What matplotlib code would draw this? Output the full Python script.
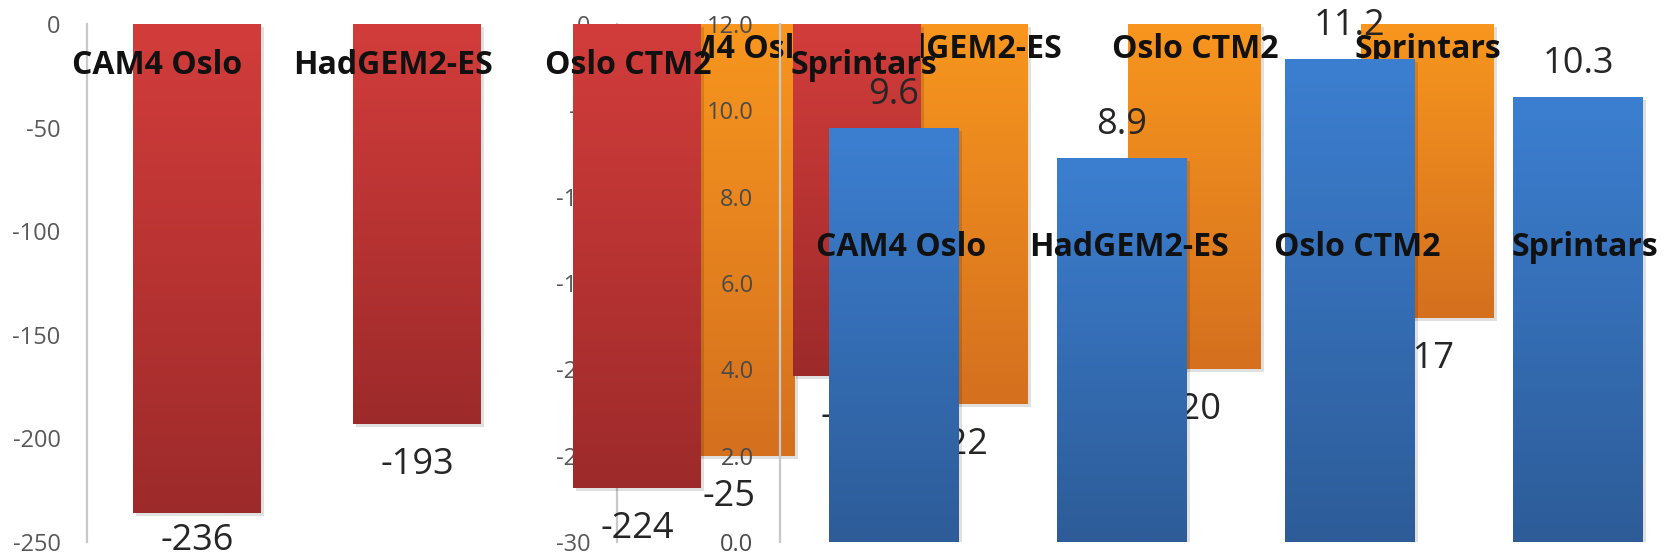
import numpy as np
import matplotlib.pyplot as plt
from matplotlib.colors import LinearSegmentedColormap

plt.rcParams['font.family'] = ['Open Sans', 'DejaVu Sans']

# model names and the three forcing series
models = ['CAM4 Oslo', 'HadGEM2-ES', 'Oslo CTM2', 'Sprintars']
red_vals = [-236, -193, -224, -170]
orange_vals = [-25, -22, -20, -17]
blue_vals = [9.6, 8.9, 11.2, 10.3]

red_ticks = [0, -50, -100, -150, -200, -250]
orange_ticks = [0, -5, -10, -15, -20, -25, -30]
blue_ticks = [0, 2, 4, 6, 8, 10, 12]

W, H = 1666, 559
fig = plt.figure(figsize=(W / 100, H / 100), dpi=100)
fig.patch.set_facecolor('white')

PLOT_H = 518  # pixel height of every plot area


def make_axes(left_px, width_px, xlim, ylim, ticks, fmt):
    ax = fig.add_axes([left_px / W, 17 / H, width_px / W, PLOT_H / H])
    ax.set_xlim(xlim)
    ax.set_ylim(ylim)
    ax.patch.set_visible(False)
    for s in ['top', 'right', 'bottom']:
        ax.spines[s].set_visible(False)
    ax.spines['left'].set_color('#c8c8c8')
    ax.spines['left'].set_linewidth(1.6)
    ax.set_xticks([])
    ax.set_yticks(ticks)
    ax.set_yticklabels([fmt.format(t) for t in ticks])
    ax.tick_params(axis='y', length=0, pad=19, labelsize=17, labelcolor='#595959')
    return ax


def px_per_unit(ax):
    lo, hi = ax.get_ylim()
    return PLOT_H / (hi - lo)


def px_per_cat(ax):
    lo, hi = ax.get_xlim()
    return ax.get_position().width * W / (hi - lo)


def gradient_bars(ax, x, vals, width, top_col, bot_col):
    # soft drop shadow, a few pixels right and down
    dx = 3 / px_per_cat(ax)
    dy = 3 / px_per_unit(ax)
    ax.bar(x + dx, vals, width=width, bottom=-dy, color='black', alpha=0.12,
           zorder=1.5)
    bars = ax.bar(x, vals, width=width, color=top_col, zorder=2)
    cmap = LinearSegmentedColormap.from_list('grad', [bot_col, top_col])
    grad = np.linspace(0, 1, 256).reshape(-1, 1)
    for b in bars:
        x0, y0 = b.get_x(), b.get_y()
        w, h = b.get_width(), b.get_height()
        im = ax.imshow(grad, extent=(x0, x0 + w, min(y0, y0 + h), max(y0, y0 + h)),
                       origin='lower', cmap=cmap, aspect='auto', zorder=2.1)
        im.set_clip_path(b)
    return bars


def neg_labels(ax, x, vals, off_px=41):
    k = px_per_unit(ax)
    lo = ax.get_ylim()[0]
    for xi, v in zip(x, vals):
        y = max(v - off_px / k, lo + 1 / k)
        ax.text(xi, y, str(v), ha='center', va='center', fontsize=26,
                color='#262626', zorder=4)


x = np.arange(len(models))

# orange panel (bottom layer)
ax_o = make_axes(617, 932, (-0.48, 3.52), (-30, 0), orange_ticks, '{:d}')
ax_o.set_zorder(1)
gradient_bars(ax_o, x, orange_vals, 0.57, '#f8961f', '#d4701e')
neg_labels(ax_o, x, orange_vals)
for xi, name in zip(x, models):
    ax_o.text(xi, -26 / px_per_unit(ax_o), name, ha='center', va='center',
              fontsize=23, fontweight='bold', color='#111111', zorder=4)

# red panel
ax_r = make_axes(87, 880, (-0.5, 3.5), (-250, 0), red_ticks, '{:d}')
ax_r.set_zorder(2)
gradient_bars(ax_r, x, red_vals, 0.58, '#d23d3b', '#9d2a2a')
neg_labels(ax_r, x, red_vals)
for xi, name in zip(x * 1.07 - 0.18, models):
    ax_r.text(xi, -41 / px_per_unit(ax_r), name, ha='center', va='center',
              fontsize=23, fontweight='bold', color='#111111', zorder=4)

# blue panel (top layer)
ax_b = make_axes(780, 912, (-0.5, 3.5), (0, 12), blue_ticks, '{:.1f}')
ax_b.set_zorder(3)
ax_b.tick_params(axis='y', labelcolor='#4a4a4a')
gradient_bars(ax_b, x, blue_vals, 0.57, '#3c7fd1', '#2d5c98')
kb = px_per_unit(ax_b)
for xi, v in zip(x, blue_vals):
    ax_b.text(xi, v + 33 / kb, f'{v:.1f}', ha='center', va='center', fontsize=26,
              color='#262626', zorder=4)
for xi, name in zip(x + 0.03, models):
    ax_b.text(xi, (542 - 248) / kb, name, ha='center', va='center',
              fontsize=23, fontweight='bold', color='#111111', zorder=4)

fig.savefig('out.png', dpi=100)
